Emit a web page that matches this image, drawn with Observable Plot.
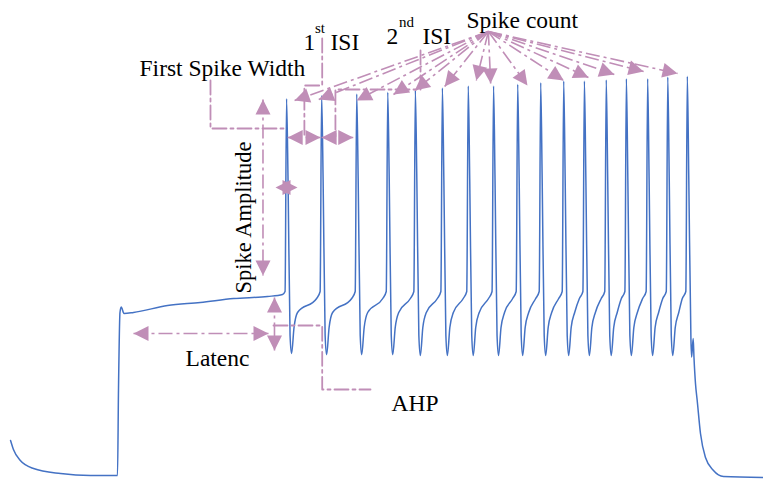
<!DOCTYPE html>
<html><head><meta charset="utf-8">
<script src="https://cdn.jsdelivr.net/npm/d3@7"></script>
<script src="https://cdn.jsdelivr.net/npm/@observablehq/plot@0.6"></script>
<style>html,body{margin:0;padding:0;background:#fff;}</style>
</head><body><div id="chart"></div>
<script>
// ---- Trace data: time (ms from current-step onset), membrane potential (mV) ----
const spikeTime   = [294, 355, 416, 470, 518, 565, 610, 654, 696, 736, 776, 812, 850, 885, 922, 957, 991];
const spikePeak   = [24.2, 25, 25.4, 25.8, 26.3, 26.9, 27.4, 27.4, 27.8, 28.2, 28.6, 28.6, 28.9, 29.2, 29.2, 29.6, 29.8];
const spikeTrough = [-39.5, -39.8, -39.8, -39.8, -40, -40, -40, -40, -40, -40, -40, -40, -40, -40, -40, -40, -40.4];

// waveform pieces
const downOffset = [2.6, 6.1], downV = [3.75, -35];          // after each peak
const troughDelay = 8.7;                                         // peak -> trough
const recoveryOffset = [4.3, 10.4], recoveryV = [-33, -29.25];   // after each trough
const preSpikeOffset = [-8.7, -2.6], preSpikeV = [-25.75, -24];  // before each spike

const preTime = [-186, -181, -169, -146, -99, -47, 0, 1.7, 4.3, 6.4, 11.3, 27.8, 87, 144, 202, 261, 287];
const preV    = [-61.25, -63.5, -66.25, -68.25, -69.5, -70, -70, -48.75, -29.25, -27.9, -29.5, -29.25, -27.5, -26.75, -25.75, -25.25, -24.75];
const postTime = [993.6, 997.3, 998.5, 1001.2, 1002.6, 1005.2, 1008.2, 1013.9, 1022.6, 1036.5, 1053.9, 1123.5];
const postV    = [3.75, -36, -40.4, -35.75, -40.5, -47, -51.25, -59.5, -65.5, -68.75, -70.25, -70.5];

// ---- Annotation data (same units) ----
const fanOrigin = [645, 41];
const fanTipT = [308, 350, 416, 480, 517, 569, 624, 649, 713, 776, 819, 864, 915, 974];
const fanTipV = [23.75, 24, 23.75, 25.25, 26.25, 27.25, 28.75, 28, 27.5, 28.75, 29.5, 30.25, 31, 30.5];

// double-headed arrows: [t1, v1, t2, v2]
const amplitudeArrow = [253, 24, 253, -20];
const latencyArrow   = [27.8, -34.5, 262.6, -34.5];
const ahpArrow       = [273, -25.5, 273, -38.75];
const isi1Arrow      = [296, 14.5, 353, 14.5];
const isi2Arrow      = [355, 14.5, 410, 14.5];

// pointer paths
const widthPathT = [161.7, 161.7, 293.9], widthPathV = [28.75, 16.75, 16.75];
const isi1PathT  = [356, 356, 325, 325],  isi1PathV  = [39.25, 27.5, 27.5, 14.5];
const isi2PathT  = [527, 527, 379, 379],  isi2PathV  = [36.25, 26.5, 26.5, 14.5];
const ahpPathT   = [271.3, 356, 356, 440], ahpPathV  = [-32.5, -32.5, -48.5, -48.5];

// first spike width: two overlapping opposite heads at half amplitude
const widthHeadT = [313, 274.8], widthHeadV = [2, 2], widthHeadDir = [90, 270];

// labels
const labelText = ["First Spike Width", "1", "ISI", "2", "ISI", "Spike count", "Latenc", "AHP"];
const labelT    = [38.3, 323.5, 370.5, 467.8, 530.4, 607, 118.3, 476.5];
const labelV    = [30, 36.5, 36.5, 38, 38, 42, -42.5, -53.75];
const supText = ["st", "nd"];
const supT    = [343.5, 489.6];
const supV    = [40.75, 42.1];
const vertLabel = "Spike Amplitude", vertT = 231.3, vertV = -5.5;

// ---- Build ----
const W = 763, H = 480;
const xDomain = [-203.5, 1123.5], yDomain = [-71.25, 48.75];
const sx = d3.scaleLinear(xDomain, [0, W]);
const sy = d3.scaleLinear(yDomain, [H, 0]);

const trace = [];
preTime.forEach((t, i) => trace.push({t, v: preV[i]}));
spikeTime.forEach((s, i) => {
  if (i > 0) preSpikeOffset.forEach((o, k) => trace.push({t: s + o, v: preSpikeV[k]}));
  else trace.push({t: s + preSpikeOffset[1], v: preSpikeV[1]});
  trace.push({t: s, v: spikePeak[i]});
  if (i < spikeTime.length - 1) {
    downOffset.forEach((o, k) => trace.push({t: s + o, v: downV[k]}));
    trace.push({t: s + troughDelay, v: spikeTrough[i]});
    recoveryOffset.forEach((o, k) => trace.push({t: s + troughDelay + o, v: recoveryV[k]}));
  }
});
postTime.forEach((t, i) => trace.push({t, v: postV[i]}));

function headFrom(tipT, tipV, fromT, fromV) {
  const dx = sx(tipT) - sx(fromT), dy = sy(tipV) - sy(fromV);
  return {t: tipT, v: tipV, rot: Math.atan2(dx, -dy) * 180 / Math.PI};
}
const doubles = [amplitudeArrow, latencyArrow, ahpArrow, isi1Arrow, isi2Arrow];
const heads = [];
doubles.forEach(([t1, v1, t2, v2]) => { heads.push(headFrom(t1, v1, t2, v2)); heads.push(headFrom(t2, v2, t1, v1)); });
fanTipT.forEach((t, i) => heads.push(headFrom(t, fanTipV[i], fanOrigin[0], fanOrigin[1])));
widthHeadT.forEach((t, i) => heads.push({t, v: widthHeadV[i], rot: widthHeadDir[i]}));

const segs = doubles.map(([t1, v1, t2, v2]) => ({t1, v1, t2, v2}));
fanTipT.forEach((t, i) => segs.push({t1: fanOrigin[0], v1: fanOrigin[1], t2: t, v2: fanTipV[i]}));

const paths = [];
[[widthPathT, widthPathV], [isi1PathT, isi1PathV], [isi2PathT, isi2PathV], [ahpPathT, ahpPathV]]
  .forEach(([T, V], id) => T.forEach((t, k) => paths.push({id, t, v: V[k]})));

const labels = labelText.map((text, i) => ({text, t: labelT[i], v: labelV[i]}));
const sups = supText.map((text, i) => ({text, t: supT[i], v: supV[i]}));

const HW = 7.5, HL = 15; // arrowhead half-width and length
const triangle = {draw(ctx) { ctx.moveTo(-HW, 0); ctx.lineTo(0, -HL); ctx.lineTo(HW, 0); ctx.closePath(); }};
const C = "#C08EB7", dash = "14,4,3,4";

const chart = Plot.plot({
  width: W, height: H,
  marginTop: 0, marginRight: 0, marginBottom: 0, marginLeft: 0,
  x: {domain: xDomain, axis: null},
  y: {domain: yDomain, axis: null},
  style: {fontFamily: "'Liberation Serif', 'Times New Roman', serif", background: "white", overflow: "visible"},
  marks: [
    Plot.line(trace, {x: "t", y: "v", curve: "monotone-x", stroke: "#4472C4", strokeWidth: 1.5}),
    Plot.line(paths, {x: "t", y: "v", z: "id", stroke: C, strokeWidth: 1.8, strokeDasharray: dash}),
    Plot.link(segs, {x1: "t1", y1: "v1", x2: "t2", y2: "v2", stroke: C, strokeWidth: 1.6, strokeDasharray: dash}),
    Plot.vector(heads, {x: "t", y: "v", rotate: "rot", length: HL, anchor: "end", shape: triangle, fill: C, stroke: "none"}),
    Plot.text(labels, {x: "t", y: "v", text: "text", textAnchor: "start", lineAnchor: "bottom", fontSize: 23.5, fill: "black"}),
    Plot.text(sups, {x: "t", y: "v", text: "text", textAnchor: "start", lineAnchor: "bottom", fontSize: 15, fill: "black"}),
    Plot.text([vertLabel], {x: () => vertT, y: () => vertV, text: d => d, rotate: -90, textAnchor: "middle", lineAnchor: "bottom", fontSize: 22.5, fill: "black"})
  ]
});
document.getElementById("chart").appendChild(chart);
</script>
</body></html>
